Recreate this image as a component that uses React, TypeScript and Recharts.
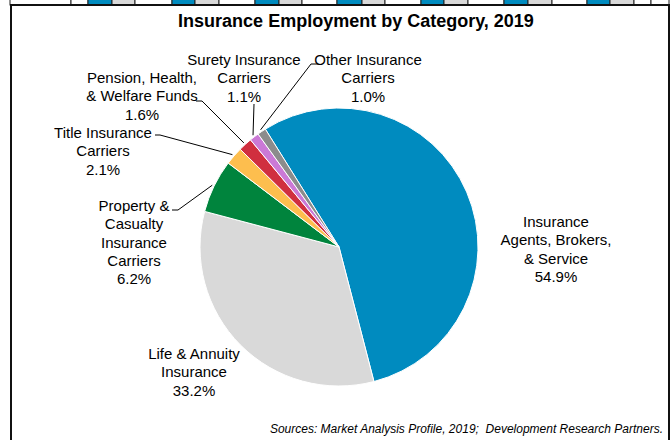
import { PieChart, Pie, Cell } from 'recharts';

const categories = [
  'Insurance Agents, Brokers, & Service',
  'Life & Annuity Insurance',
  'Property & Casualty Insurance Carriers',
  'Title Insurance Carriers',
  'Pension, Health, & Welfare Funds',
  'Surety Insurance Carriers',
  'Other Insurance Carriers',
];
const shares = [54.9, 33.2, 6.2, 2.1, 1.6, 1.1, 1.0];
const labelText = [
  ['Insurance', 'Agents, Brokers,', '& Service'],
  ['Life & Annuity', 'Insurance'],
  ['Property &', 'Casualty', 'Insurance', 'Carriers'],
  ['Title Insurance', 'Carriers'],
  ['Pension, Health,', '& Welfare Funds'],
  ['Surety Insurance', 'Carriers'],
  ['Other Insurance', 'Carriers'],
];
const colors = ['#008BBF', '#D9D9D9', '#00843D', '#FDBE4E', '#D02F3F', '#CB79D6', '#8C8C8C'];

// label placement: text centre / first line, and leader bend points
const labelLayout: { x: number; y: number; line: number[][] | null }[] = [
  { x: 556, y: 222, line: null },
  { x: 194, y: 354, line: null },
  { x: 134, y: 206, line: [[178, 210], [172, 210]] },
  { x: 103, y: 133, line: [[160, 135], [155, 135]] },
  { x: 142, y: 78, line: [[202, 101], [196, 101]] },
  { x: 244, y: 60, line: [[254, 104]] },
  { x: 368, y: 60, line: [[311, 64], [318, 64]] },
];

// decorative table strip above the frame
const stripEdges = [10, 71, 88, 112, 135, 172, 195, 219, 255, 279, 302, 337, 362, 385, 421, 444, 468, 504, 528, 552, 587, 610, 634, 651, 669];
const stripFills = ['#fff', '#fff', 'b', 'g', '#fff', 'b', 'g', '#fff', 'b', 'g', '#fff', 'b', 'g', '#fff', 'b', 'g', '#fff', 'b', 'g', '#fff', 'b', 'g', '#fff', '#fff'];

const data = categories.map((name, i) => ({ name, value: shares[i] }));

const FONT = '"Liberation Sans", Arial, sans-serif';
const RAD = Math.PI / 180;

const renderLabel = (props: any) => {
  const { cx, cy, midAngle, outerRadius, index, value } = props;
  const lay = labelLayout[index];
  const lines = [...labelText[index], `${value.toFixed(1)}%`];
  const ax = cx + (outerRadius + 2) * Math.cos(-midAngle * RAD);
  const ay = cy + (outerRadius + 2) * Math.sin(-midAngle * RAD);
  return (
    <g key={`lbl-${index}`}>
      {lay.line && (
        <polyline
          points={[[ax, ay], ...lay.line].map((p) => p.join(',')).join(' ')}
          fill="none"
          stroke="#000"
          strokeWidth={1}
        />
      )}
      <text textAnchor="middle" fontFamily={FONT} fontSize={15} fill="#000">
        {lines.map((t, i) => (
          <tspan key={i} x={lay.x} y={lay.y + 5 + i * 18.3}>
            {t}
          </tspan>
        ))}
      </text>
    </g>
  );
};

export default function App() {
  return (
    <div style={{ position: 'absolute', left: 0, top: 0, width: 671, height: 440, background: '#fff', overflow: 'hidden' }}>
      <svg width={671} height={440} style={{ position: 'absolute', left: 0, top: 0 }}>
        {stripEdges.slice(0, -1).map((x0, i) => (
          <rect
            key={i}
            x={x0}
            y={-1}
            width={stripEdges[i + 1] - x0}
            height={6}
            fill={stripFills[i] === 'b' ? '#008BBF' : stripFills[i] === 'g' ? '#D9D9D9' : '#fff'}
            stroke="#222"
            strokeWidth={1}
          />
        ))}
        <rect x={11} y={5} width={658} height={460} fill="none" stroke="#111" strokeWidth={2} />
        <text x={356} y={27} textAnchor="middle" fontFamily={FONT} fontSize={18} fontWeight="bold" fill="#000">
          Insurance Employment by Category, 2019
        </text>
        <text
          x={663}
          y={433}
          textAnchor="end"
          fontFamily={FONT}
          fontSize={12}
          fontStyle="italic"
          fill="#000"
          style={{ whiteSpace: 'pre' }}
        >
          Sources: Market Analysis Profile, 2019;  Development Research Partners.
        </text>
      </svg>
      <div style={{ position: 'absolute', left: 0, top: 0 }}>
        <PieChart width={671} height={440} margin={{ top: 0, right: 0, bottom: 0, left: 0 }}>
          <Pie
            data={data}
            dataKey="value"
            nameKey="name"
            cx={339}
            cy={247}
            outerRadius={139}
            startAngle={122}
            endAngle={-238}
            stroke="#fff"
            strokeWidth={1}
            label={renderLabel}
            labelLine={false}
            isAnimationActive={false}
          >
            {data.map((d, i) => (
              <Cell key={`cell-${i}`} fill={colors[i]} />
            ))}
          </Pie>
        </PieChart>
      </div>
    </div>
  );
}
